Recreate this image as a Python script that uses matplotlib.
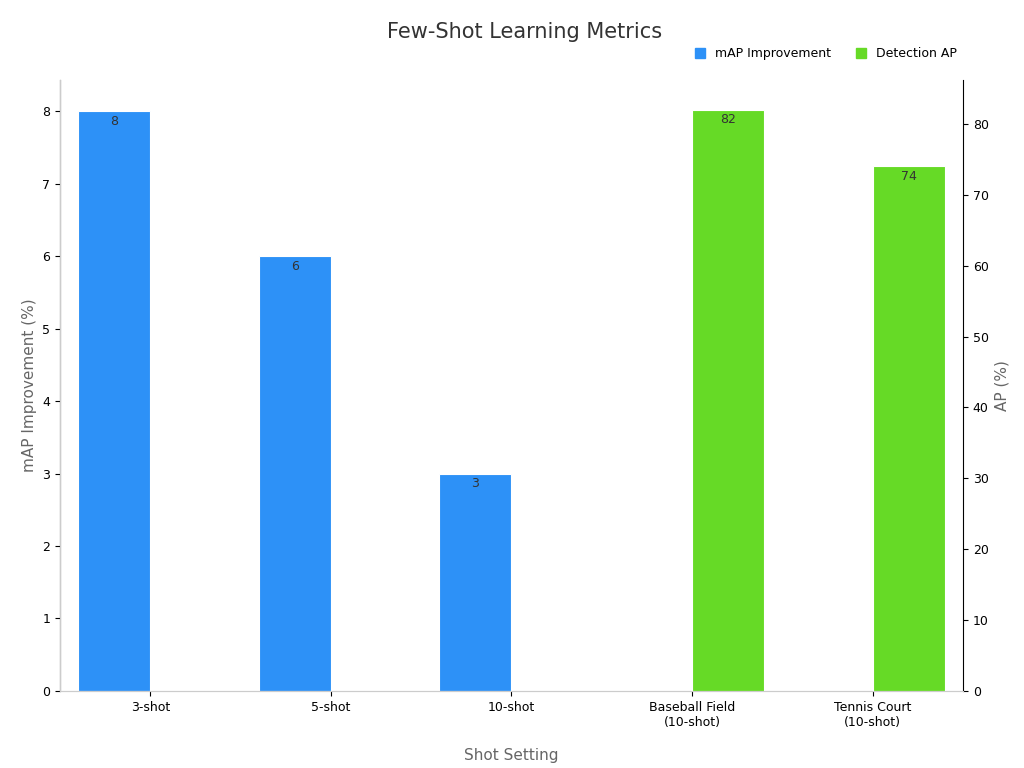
import numpy as np
import matplotlib.pyplot as plt

categories = ["3-shot", "5-shot", "10-shot", "Baseball Field\n(10-shot)", "Tennis Court\n(10-shot)"]
map_improvement = [8, 6, 3, None, None]
detection_ap = [None, None, None, 82, 74]

blue = "#2d91f7"
green = "#66da26"
grey = "#666666"

fig = plt.figure(figsize=(10.24, 7.68), dpi=100)
ax = fig.add_axes([0.0586, 0.1003, 0.8818, 0.7955])
ax2 = ax.twinx()
x = np.arange(len(categories))
w = 0.4

for i, v in enumerate(map_improvement):
    if v is not None:
        ax.bar(x[i] - w / 2, v, w, color=blue, edgecolor="white", linewidth=0.8)
        ax.text(x[i] - w / 2, v - 0.05, str(v), ha="center", va="top", fontsize=9, color="#333333")
for i, v in enumerate(detection_ap):
    if v is not None:
        ax2.bar(x[i] + w / 2, v, w, color=green, edgecolor="white", linewidth=0.8)
        ax2.text(x[i] + w / 2, v - 0.5, str(v), ha="center", va="top", fontsize=9, color="#333333")

ax.set_xlim(-0.5, 4.5)
ax.set_ylim(0, 8.43)
ax2.set_ylim(0, 86.2)
ax.set_xticks(x)
ax.set_xticklabels(categories, fontsize=9)
ax.set_yticks(range(0, 9))
ax2.set_yticks(range(0, 81, 10))
ax.tick_params(labelsize=9)
ax2.tick_params(labelsize=9)
ax.set_xlabel("Shot Setting", fontsize=11, color=grey, labelpad=14)
ax.set_ylabel("mAP Improvement (%)", fontsize=11, color=grey)
ax2.set_ylabel("AP (%)", fontsize=11, color=grey)

for a in (ax, ax2):
    a.spines["top"].set_visible(False)
    a.spines["bottom"].set_color("#cccccc")
ax.spines["right"].set_visible(False)
ax2.spines["left"].set_color("#cccccc")

fig.text(0.512, 0.958, "Few-Shot Learning Metrics", ha="center", va="center", fontsize=15, color="#333333")
from matplotlib.patches import Patch
fig.legend(handles=[Patch(color=blue, label="mAP Improvement"), Patch(color=green, label="Detection AP")],
           loc="center right", bbox_to_anchor=(0.945, 0.93), ncol=2, frameon=False, fontsize=9,
           handlelength=0.8, handleheight=0.8, columnspacing=2)

fig.savefig("out.png", dpi=100)
